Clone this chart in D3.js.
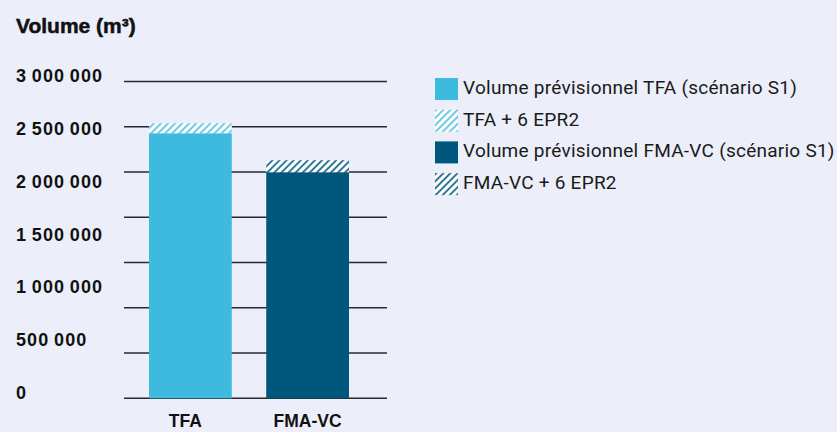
<!DOCTYPE html>
<html>
<head>
<meta charset="utf-8">
<script src="https://cdn.jsdelivr.net/npm/d3@7"></script>
<style>
 html, body { margin: 0; padding: 0; background: #eceef9; }
 svg { display: block; }
</style>
</head>
<body>
<div id="chart"></div>
<script>
const categories = ["TFA", "FMA-VC"];
const baseVolumes = [2510000, 2140000];
const epr2Extra = [95000, 115000];
const yTicks = [0, 500000, 1000000, 1500000, 2000000, 2500000, 3000000];
const legendLabels = [
 "Volume prévisionnel TFA (scénario S1)",
 "TFA + 6 EPR2",
 "Volume prévisionnel FMA-VC (scénario S1)",
 "FMA-VC + 6 EPR2"
];
const gridLineCount = 8;

const colors = ["#3dbadd", "#00577d"];
const width = 837;
const height = 432;

const svg = d3
 .select("#chart")
 .append("svg")
 .attr("width", width)
 .attr("height", height)
 .attr("viewBox", `0 0 ${width} ${height}`);

svg.append("rect").attr("width", width).attr("height", height).attr("fill", "#eceef9");

// hatch patterns
const defs = svg.append("defs");
colors.forEach((c, i) => {
 const p = defs
  .append("pattern")
  .attr("id", `hatch${i}`)
  .attr("patternUnits", "userSpaceOnUse")
  .attr("width", 5)
  .attr("height", 5)
  .attr("patternTransform", "rotate(45)");
 p.append("rect").attr("width", 5).attr("height", 5).attr("fill", "#ffffff");
 p.append("rect").attr("width", 2).attr("height", 5).attr("fill", c).attr("opacity", i === 0 ? 0.75 : 0.8);
});

const y = d3.scaleLinear().domain([0, 3000000]).range([398.3, 81.5]);
const x = d3.scaleBand().domain(categories).range([149, 349]).paddingInner(0.294).paddingOuter(0);

// the source draws 8 evenly spaced rules over the same span as the 7 labels
const grid = d3.scaleLinear().domain([0, gridLineCount - 1]).range(y.range());
svg
 .append("g")
 .selectAll("line")
 .data(d3.range(gridLineCount))
 .join("line")
 .attr("x1", 124)
 .attr("x2", 387)
 .attr("y1", (d) => grid(d))
 .attr("y2", (d) => grid(d))
 .attr("stroke", "#2a2a2e")
 .attr("stroke-width", 1.5);

const fmt = (v) => d3.format(",")(v).replace(/,/g, "\u2009");

svg
 .append("g")
 .selectAll("text")
 .data(yTicks)
 .join("text")
 .attr("x", 16)
 .attr("y", (d) => y(d) - 4)
 .attr("dominant-baseline", "middle")
 .style("font-family", "'Liberation Sans', Arial, sans-serif")
 .style("font-weight", "bold")
 .style("font-size", "18px")
 .style("letter-spacing", "1.1px")
 .style("fill", "#111")
 .text(fmt);

svg
 .append("text")
 .attr("x", 16)
 .attr("y", 33)
 .style("font-family", "'Liberation Sans', Arial, sans-serif")
 .style("font-weight", "bold")
 .style("font-size", "21px")
 .style("fill", "#111")
 .style("stroke", "#111")
 .style("stroke-width", 0.5)
 .text("Volume (m³)");

// stacked bars: base + hatched EPR2 extra
const bars = svg.append("g").selectAll("g").data(categories).join("g");
bars
 .append("rect")
 .attr("x", (d) => x(d))
 .attr("width", x.bandwidth())
 .attr("y", (d, i) => y(baseVolumes[i]))
 .attr("height", (d, i) => y(0) - y(baseVolumes[i]))
 .attr("fill", (d, i) => colors[i]);
bars
 .append("rect")
 .attr("x", (d) => x(d))
 .attr("width", x.bandwidth())
 .attr("y", (d, i) => y(baseVolumes[i] + epr2Extra[i]))
 .attr("height", (d, i) => y(baseVolumes[i]) - y(baseVolumes[i] + epr2Extra[i]))
 .attr("fill", (d, i) => `url(#hatch${i})`);

svg
 .append("g")
 .selectAll("text")
 .data(categories)
 .join("text")
 .attr("x", (d) => x(d) + x.bandwidth() / 2 - (d === "TFA" ? 5 : 0))
 .attr("y", 427)
 .attr("text-anchor", "middle")
 .style("font-family", "'Liberation Sans', Arial, sans-serif")
 .style("font-weight", "bold")
 .style("font-size", "17.5px")
 .style("fill", "#111")
 .text((d) => d);

// legend
const legend = svg
 .append("g")
 .selectAll("g")
 .data(legendLabels)
 .join("g")
 .attr("transform", (d, i) => `translate(435, ${78 + i * 31.7})`);
legend
 .append("rect")
 .attr("width", 23)
 .attr("height", 22)
 .attr("fill", (d, i) => (i % 2 === 0 ? colors[i / 2] : `url(#hatch${(i - 1) / 2})`));
legend
 .append("text")
 .attr("x", 28)
 .attr("y", 11)
 .attr("dominant-baseline", "middle")
 .style("font-family", "Roboto, sans-serif")
 .style("font-size", "19px")
 .style("letter-spacing", "0.25px")
 .style("fill", "#1a1a1a")
 .text((d) => d);
</script>
</body>
</html>
